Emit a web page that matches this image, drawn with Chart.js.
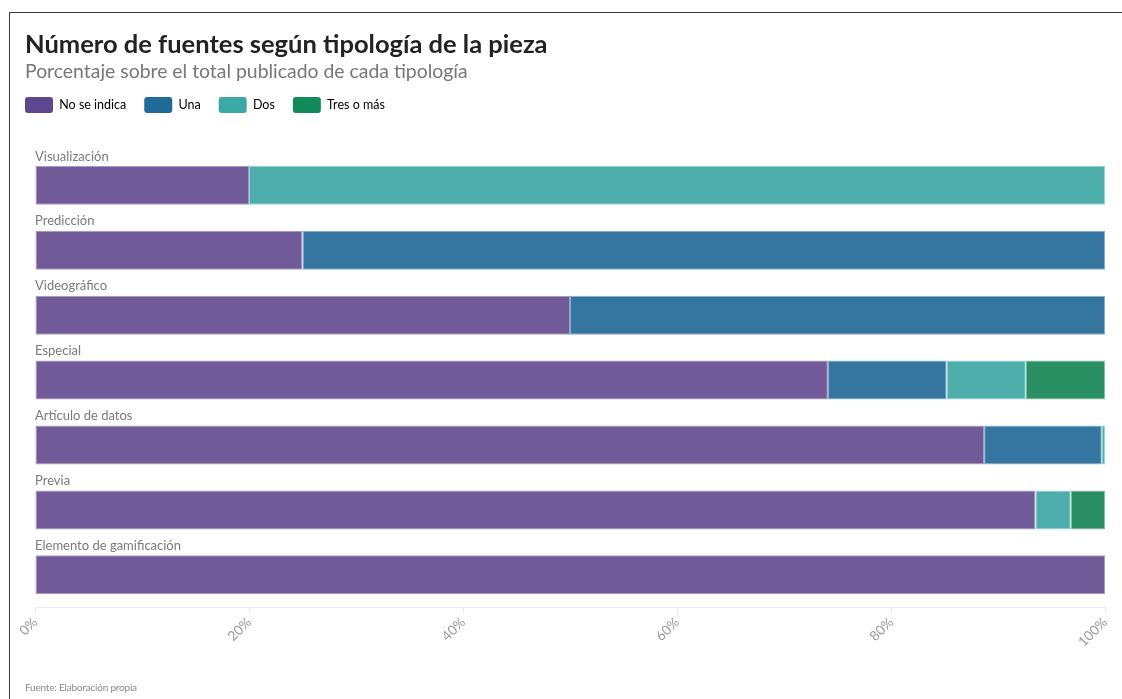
<!DOCTYPE html>
<html lang="es">
<head>
<meta charset="utf-8">
<title>Número de fuentes según tipología de la pieza</title>
<script src="https://cdn.jsdelivr.net/npm/chart.js@4.4.0/dist/chart.umd.min.js"></script>
<style>
    html, body { margin: 0; padding: 0; background: #fff; }
    body { width: 1122px; height: 699px; position: relative; overflow: hidden; font-family: Lato, sans-serif; }
    #marco {
        position: absolute; left: 9px; top: 12px; width: 1113px; height: 687px;
        border-left: 1px solid #3a3a3a; border-top: 1px solid #3a3a3a; box-sizing: border-box;
    }
    #lienzo { position: absolute; left: 0; top: 0; width: 1112px; height: 686px; }
    #fuente { position: absolute; left: 15px; top: 668px; font-size: 10px; color: #8a8a8a; letter-spacing: -0.2px; }
</style>
</head>
<body>
<div id="marco">
    <div id="lienzo"><canvas id="grafico"></canvas></div>
    <div id="fuente">Fuente: Elaboración propia</div>
</div>
<script>
// --- DATOS ---
const categorias = ['Visualización', 'Predicción', 'Videográfico', 'Especial', 'Artículo de datos', 'Previa', 'Elemento de gamificación'];
const noSeIndica = [20, 25, 50, 74.1, 88.7, 93.5, 100];
const una        = [0, 75, 50, 11.1, 11.0, 0, 0];
const dos        = [80, 0, 0, 7.4, 0.3, 3.3, 0];
const tresOMas   = [0, 0, 0, 7.4, 0, 3.2, 0];
const ticksX     = [0, 20, 40, 60, 80, 100];

// colores de barra y de leyenda (la leyenda es algo más oscura)
const series = [
    { nombre: 'No se indica', datos: noSeIndica, color: '#705a98', borde: '#a898c4', leyenda: '#5e4691' },
    { nombre: 'Una',          datos: una,        color: '#3576a0', borde: '#86b0cb', leyenda: '#1f6a96' },
    { nombre: 'Dos',          datos: dos,        color: '#4daeac', borde: '#98d4d2', leyenda: '#3ba9a6' },
    { nombre: 'Tres o más',   datos: tresOMas,   color: '#298f63', borde: '#7cc2a2', leyenda: '#128a5a' }
];

// Etiquetas de categoría encima de cada barra
const etiquetasCategoria = {
    id: 'etiquetasCategoria',
    afterDatasetsDraw(chart) {
        const { ctx, chartArea } = chart;
        const meta = chart.getDatasetMeta(0);
        ctx.save();
        ctx.font = '13px Lato, sans-serif';
        ctx.fillStyle = '#7a7a7a';
        ctx.textBaseline = 'bottom';
        ctx.textAlign = 'left';
        meta.data.forEach((bar, i) => {
            const top = bar.y - bar.height / 2;
            ctx.fillText(categorias[i], chartArea.left, top - 3);
        });
        ctx.restore();
    }
};

// La leyenda se acerca al subtítulo y al margen izquierdo del título
const moverLeyenda = {
    id: 'moverLeyenda',
    afterLayout(chart) {
        const lg = chart.legend;
        lg.left -= 18; lg.right -= 18;
        lg.top -= 30; lg.bottom -= 30;
    }
};

const ctx = document.getElementById('grafico').getContext('2d');
new Chart(ctx, {
    type: 'bar',
    data: {
        labels: categorias,
        datasets: series.map(s => ({
            label: s.nombre,
            data: s.datos,
            backgroundColor: s.color,
            borderColor: s.borde,
            borderWidth: 1,
            borderSkipped: false,
            barPercentage: 1,
            categoryPercentage: 0.6
        }))
    },
    options: {
        indexAxis: 'y',
        responsive: true,
        maintainAspectRatio: false,
        animation: false,
        layout: { padding: { left: 15, right: 17, top: 0, bottom: 48 } },
        plugins: {
            title: {
                display: true,
                text: 'Número de fuentes según tipología de la pieza',
                align: 'start',
                color: '#222',
                font: { family: 'Lato', size: 25.5, weight: 'bold' },
                padding: { top: 16, bottom: 1 }
            },
            subtitle: {
                display: true,
                text: 'Porcentaje sobre el total publicado de cada tipología',
                align: 'start',
                color: '#777',
                font: { family: 'Lato', size: 19.4 },
                padding: { top: 0, bottom: 25 }
            },
            legend: {
                position: 'top',
                align: 'start',
                labels: {
                    boxWidth: 28,
                    boxHeight: 16,
                    padding: 18,
                    useBorderRadius: true,
                    color: '#333',
                    font: { family: 'Lato', size: 12.5 },
                    generateLabels(chart) {
                        return series.map((s, i) => ({
                            text: s.nombre,
                            fillStyle: s.leyenda,
                            strokeStyle: s.leyenda,
                            lineWidth: 0,
                            borderRadius: 3,
                            datasetIndex: i,
                            hidden: false
                        }));
                    }
                }
            },
            tooltip: { enabled: false }
        },
        scales: {
            x: {
                stacked: true,
                min: 0,
                max: 100,
                afterBuildTicks(scale) { scale.ticks = ticksX.map(v => ({ value: v })); },
                ticks: {
                    callback: v => v + '%',
                    color: '#9a9a9a',
                    font: { family: 'Lato', size: 13.5 },
                    minRotation: 45,
                    maxRotation: 45,
                    padding: 1
                },
                grid: { drawOnChartArea: false, drawTicks: true, tickLength: 6, color: '#e6e6e6' },
                border: { display: true, color: '#ececec' }
            },
            y: {
                stacked: true,
                ticks: { display: false },
                grid: { display: false },
                border: { display: false },
                afterFit(scale) { scale.width = 10; }
            }
        }
    },
    plugins: [etiquetasCategoria, moverLeyenda]
});
</script>
</body>
</html>
